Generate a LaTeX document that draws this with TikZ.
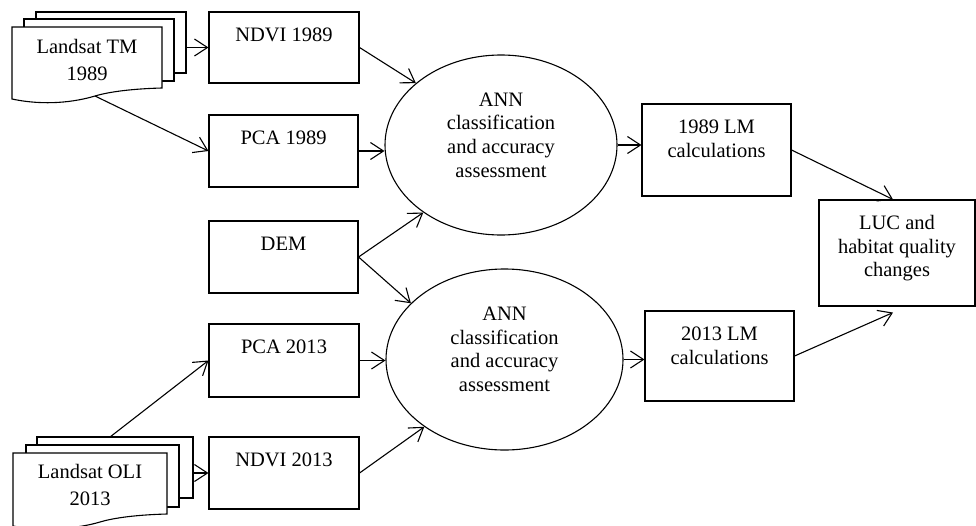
\documentclass[tikz,border=0pt]{standalone}
\usepackage{fontspec}
\setmainfont{Liberation Serif}
\usetikzlibrary{arrows.meta,shapes.geometric,calc}
\newcommand\mylines[1]{\begin{tabular}[t]{@{}c@{}}#1\end{tabular}}
\begin{document}
\begin{tikzpicture}[x=1pt,y=-1pt,
  line width=1.1pt,
  box/.style={draw,line width=1.1pt,inner sep=0pt},
  oval/.style={draw,ellipse,line width=1.1pt,inner sep=0pt},
  sheet/.style={draw,fill=white,line width=1.1pt,inner sep=0pt},
  lbl/.style={anchor=base,inner sep=0pt,font=\fontsize{20.5pt}{23.7pt}\selectfont},
  dlbl/.style={anchor=base,inner sep=0pt,font=\fontsize{20.5pt}{27pt}\selectfont},
  arr/.style={-{Straight Barb[length=13pt,width=17pt]},line width=1.1pt}]
\useasboundingbox (0,0) rectangle (976,525);

% Landsat TM stack
\node[sheet,minimum width=150pt,minimum height=61pt] (tm3) at (111,42.5) {};
\node[sheet,minimum width=150pt,minimum height=62pt] (tm2) at (99,50) {};
\draw[fill=white] (12,27) -- (162,27) -- (162,88)
  .. controls (125,89) and (105,93) .. (95,96)
  .. controls (75,102) and (45,106) .. (12,99) -- cycle;
\coordinate (tmw) at (95,96);
\node[dlbl] (tmtext) at (87,53) {\mylines{Landsat TM\\1989}};

% Landsat OLI stack
\node[sheet,minimum width=156pt,minimum height=61pt] (oli3) at (115,467.5) {};
\node[sheet,minimum width=153pt,minimum height=62pt] (oli2) at (102.5,476) {};
\draw[fill=white] (13,453) -- (167,453) -- (167,514)
  .. controls (130,515) and (110,519) .. (100,522)
  .. controls (80,528) and (46,532) .. (13,526) -- cycle;
\coordinate (olitop) at (110,437);
\node[dlbl] (olitext) at (90,478) {\mylines{Landsat OLI\\2013}};

% boxes
\node[box,minimum width=150pt,minimum height=71pt] (ndvi89) at (284,47.5) {};
\node[box,minimum width=149pt,minimum height=72pt] (pca89) at (283.5,151) {};
\node[box,minimum width=149pt,minimum height=72pt] (dem) at (283.5,257) {};
\node[box,minimum width=150pt,minimum height=73pt] (pca13) at (284,360.5) {};
\node[box,minimum width=150pt,minimum height=72pt] (ndvi13) at (284,473) {};
\node[box,minimum width=149pt,minimum height=92pt] (lm89) at (716.5,150) {};
\node[box,minimum width=149pt,minimum height=90pt] (lm13) at (719.5,356) {};
\node[box,minimum width=156pt,minimum height=106pt] (luc) at (897,253) {};

\node[lbl] (tndvi89) at ([yshift=-30pt]ndvi89.north) {NDVI 1989};
\node[lbl] (tpca89) at ([yshift=-30pt]pca89.north) {PCA 1989};
\node[lbl] (tdem) at ([yshift=-30pt]dem.north) {DEM};
\node[lbl] (tpca13) at ([yshift=-30pt]pca13.north) {PCA 2013};
\node[lbl] (tndvi13) at ([yshift=-30pt]ndvi13.north) {NDVI 2013};
\node[lbl] (tlm89) at ([yshift=-30pt]lm89.north) {\mylines{1989 LM\\calculations}};
\node[lbl] (tlm13) at ([yshift=-30pt]lm13.north) {\mylines{2013 LM\\calculations}};
\node[lbl] (tluc) at ([yshift=-30pt]luc.north) {\mylines{LUC and\\habitat quality\\changes}};

% ellipses
\node[oval,minimum width=232pt,minimum height=180pt] (ann1) at (501,145) {};
\node[oval,minimum width=237pt,minimum height=181pt] (ann2) at (504.5,359.5) {};
\node[lbl] (tann1) at ([yshift=39pt]ann1.center) {\mylines{ANN\\classification\\and accuracy\\assessment}};
\node[lbl] (tann2) at ([yshift=39pt]ann2.center) {\mylines{ANN\\classification\\and accuracy\\assessment}};

% connectors
\draw[arr] (tm3.east |- ndvi89.west) -- (ndvi89.west);
\draw[arr] (tmw) -- (pca89.west);
\draw[arr] (ndvi89.east) -- (ann1.144);
\draw[arr] (pca89.east) -- (ann1.west |- pca89.east);
\draw[arr] (dem.east) -- (ann1.221);
\draw[arr] (dem.east) -- (ann2.149);
\draw[arr] (pca13.east) -- (ann2.west |- pca13.east);
\draw[arr] (ndvi13.east) -- (ann2.220);
\draw[arr] (olitop) -- (pca13.west);
\draw[arr] (oli3.east |- ndvi13.west) -- (ndvi13.west);
\draw[arr] (ann1.east) -- (ann1.east -| lm89.west);
\draw[arr] (ann2.east) -- (ann2.east -| lm13.west);
\draw[arr] (lm89.east) -- ([xshift=-4pt]luc.north);
\draw[arr] (lm13.east) -- ([xshift=-4pt,yshift=-6pt]luc.south);
\end{tikzpicture}
\end{document}
